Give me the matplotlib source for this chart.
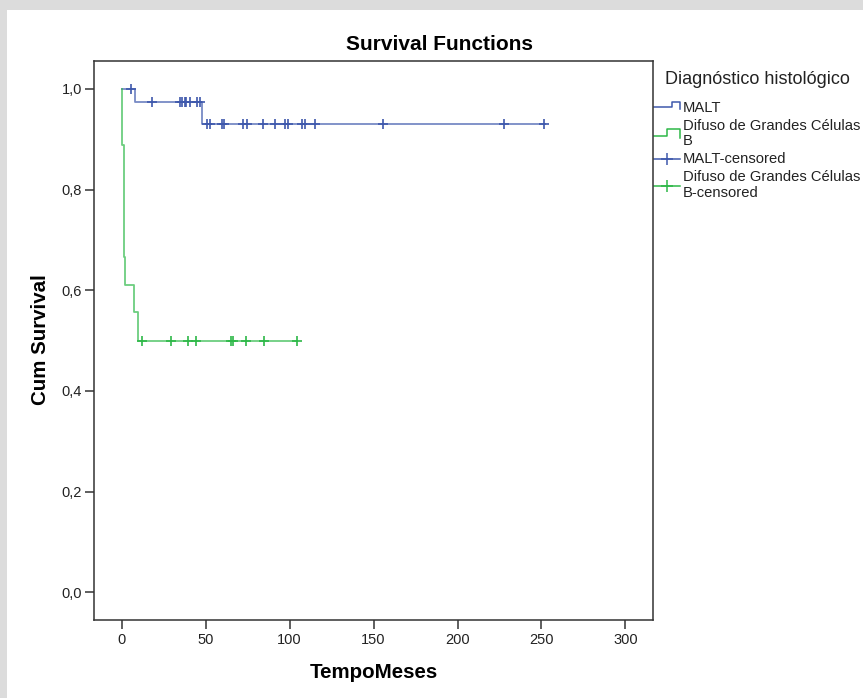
import matplotlib
matplotlib.use("Agg")
import matplotlib.pyplot as plt
from matplotlib.lines import Line2D
from matplotlib.patches import Rectangle

plt.rcParams['font.family'] = ['Liberation Sans', 'DejaVu Sans']

# dados (Kaplan-Meier)
malt_t = [0, 7.9, 48.0, 252]
malt_s = [1.0, 0.974, 0.930, 0.930]
malt_cens_t = [5.5, 18.2, 35.0, 36.0, 37.5, 38.5, 40.7, 45.0, 46.5,
               51.0, 52.5, 59.5, 61.0, 72.4, 74.4, 84.0, 91.3, 97.2, 99.2,
               107.6, 109.2, 115.1, 155.8, 227.9, 251.7]
malt_cens_s = [1.0, 0.974, 0.974, 0.974, 0.974, 0.974, 0.974, 0.974, 0.974,
               0.930, 0.930, 0.930, 0.930, 0.930, 0.930, 0.930, 0.930, 0.930, 0.930,
               0.930, 0.930, 0.930, 0.930, 0.930, 0.930]

dgcb_t = [0, 0.2, 1.4, 2.0, 7.3, 9.9, 104.2]
dgcb_s = [1.0, 0.889, 0.667, 0.611, 0.556, 0.5, 0.5]
dgcb_cens_t = [11.9, 29.4, 39.2, 44.1, 65.0, 66.5, 74.0, 84.9, 104.2]
dgcb_cens_s = [0.5] * 9

azul = "#3E58AC"
verde = "#2EB848"

W, H = 863, 698
fig = plt.figure(figsize=(W / 100, H / 100), dpi=100, facecolor="#dcdcdc")
fig.patches.append(Rectangle((7 / W, 0), 1, 1 - 10 / H, transform=fig.transFigure,
                             facecolor="white", edgecolor="none", zorder=-5))

def px(x, y):
    return x / W, 1 - y / H

ax = fig.add_axes([94 / W, 1 - 620.3 / H, (653.3 - 94) / W, (620.3 - 61) / H])
ax.set_zorder(2)
ax.step(malt_t, malt_s, where="post", color=azul, lw=1.3, alpha=0.7)
ax.step(dgcb_t, dgcb_s, where="post", color=verde, lw=1.3, alpha=0.7)
ax.plot(malt_cens_t, malt_cens_s, ls="none", marker="+", ms=6.5, mew=1.2, color=azul)
ax.plot(dgcb_cens_t, dgcb_cens_s, ls="none", marker="+", ms=6.5, mew=1.2, color=verde)

ax.set_xlim(-16.5, 316.6)
ax.set_ylim(-0.0556, 1.0556)
ax.set_xticks([0, 50, 100, 150, 200, 250, 300])
ax.set_yticks([0, 0.2, 0.4, 0.6, 0.8, 1.0])
ax.set_yticklabels(["0,0", "0,2", "0,4", "0,6", "0,8", "1,0"])
ax.tick_params(direction="out", length=6.5, width=1.1, color="#333333",
               labelsize=10.5, labelcolor="#222222")
ax.tick_params(axis="x", pad=3)
ax.tick_params(axis="y", pad=2)
for s in ax.spines.values():
    s.set_color("#333333")
    s.set_linewidth(1.1)

fig.text(*px(439, 44), "Survival Functions", ha="center", va="center",
         fontsize=15, fontweight="bold")
fig.text(*px(374, 672), "TempoMeses", ha="center", va="center",
         fontsize=14.8, fontweight="bold")
fig.text(*px(40, 340), "Cum Survival", ha="center", va="center",
         fontsize=14.8, fontweight="bold", rotation=90)

# legenda desenhada a mao (estilo SPSS)
fig.text(*px(665, 80), "Diagnóstico histológico", ha="left", va="center", fontsize=13,
         color="#222222")

def icone_degrau(y_lo, y_hi, x_step, cor):
    xs = [654, x_step, x_step, 680, 680]
    ys = [y_lo, y_lo, y_hi, y_hi, y_lo + 2]
    fig.add_artist(Line2D([px(x, 0)[0] for x in xs], [px(0, y)[1] for y in ys],
                          color=cor, lw=1.1))

def icone_cens(y, cor):
    fig.add_artist(Line2D([px(654, 0)[0], px(680, 0)[0]], [px(0, y)[1]] * 2, color=cor, lw=1.1))
    fig.add_artist(Line2D([px(667, 0)[0]], [px(0, y)[1]], marker="+", ms=8, mew=1.1, color=cor))

icone_degrau(107, 102, 672, azul)
icone_degrau(136, 129, 667, verde)
icone_cens(159, azul)
icone_cens(186, verde)

leg_kw = dict(ha="left", va="center", fontsize=10.6, color="#222222")
fig.text(*px(683, 108), "MALT", **leg_kw)
fig.text(*px(683, 126), "Difuso de Grandes Células", **leg_kw)
fig.text(*px(683, 141), "B", **leg_kw)
fig.text(*px(683, 159), "MALT-censored", **leg_kw)
fig.text(*px(683, 177), "Difuso de Grandes Células", **leg_kw)
fig.text(*px(683, 193), "B-censored", **leg_kw)

fig.savefig("out.png", dpi=100, facecolor=fig.get_facecolor())
